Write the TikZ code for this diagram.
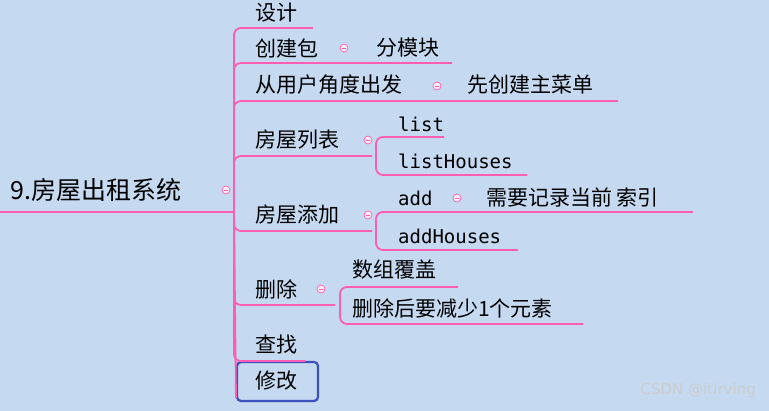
\documentclass[tikz,border=0pt]{standalone}
\usepackage{fontspec}
\setmainfont{Noto Sans CJK SC}
\newfontfamily\cjk{Noto Sans CJK SC}
\setmonofont{DejaVu Sans Mono}
\begin{document}
\begin{tikzpicture}[x=1pt,y=-1pt,
  lbl/.style={anchor=west,inner sep=0pt,font=\cjk\fontsize{21}{24}\selectfont},
  mono/.style={anchor=west,inner sep=0pt,font=\ttfamily\fontsize{19}{22}\selectfont},
  br/.style={draw=pinkc,line width=1.8pt,rounded corners=7pt},
  tog/.style={circle,draw=pinkc,fill=white!90!pinkc,line width=0.7pt,minimum size=8pt,inner sep=0pt,
    path picture={\draw[pinkc,line width=0.7pt] ([xshift=-2pt]path picture bounding box.center)--([xshift=2pt]path picture bounding box.center);}}]
\definecolor{bg}{HTML}{C5D9F1}
\definecolor{pinkc}{HTML}{FF5CB4}
\fill[bg] (0,0) rectangle (769,411);
\useasboundingbox (0,0) rectangle (769,411);
% root
\node[lbl,font=\cjk\fontsize{25}{28}\selectfont] (root) at (10,190) {9.房屋出租系统};
\node[tog] (t0) at (226,190) {};
\coordinate (r0) at (0,212);
\coordinate (hub) at (234,212);
\draw[br] (r0) -- (hub);
% level 1
\node[lbl] (a1) at (255,13) {设计};
\node[lbl] (a2) at (255,48) {创建包};
\node[tog] (t2) at (344,48) {};
\node[lbl] (a2b) at (376,48) {分模块};
\node[lbl] (a3) at (255,85) {从用户角度出发};
\node[tog] (t3) at (437,86) {};
\node[lbl] (a3b) at (467,85) {先创建主菜单};
\node[lbl] (a4) at (255,140) {房屋列表};
\node[tog] (t4) at (368,140) {};
\node[lbl] (a5) at (255,215) {房屋添加};
\node[tog] (t5) at (368,215) {};
\node[lbl] (a6) at (255,289) {删除};
\node[tog] (t6) at (321,289) {};
\node[lbl] (a7) at (255,345) {查找};
\node[lbl] (a8) at (255,381) {修改};
\draw[draw={rgb,255:red,60;green,80;blue,190},line width=2.2pt,rounded corners=4pt] (237,362) rectangle (318,401);
\coordinate (e1) at (313,28);
\coordinate (e2) at (452,63);
\coordinate (e3) at (618,101);
\coordinate (e4) at (372,156);
\coordinate (e5) at (372,231);
\coordinate (e6) at (335,305);
\coordinate (e7) at (305,361);
\coordinate (e8) at (236,398);
\foreach \e in {e1,e2,e3,e4,e5,e6,e7} \draw[br] (hub) |- (\e);
\draw[br] (hub) -- (e8);
% level 2: 房屋列表
\node[mono] (b1) at (398,124) {list};
\node[mono] (b2) at (398,161) {listHouses};
\coordinate (h4) at (376,156);
\draw[br] (h4) |- (444,137);
\draw[br] (h4) |- (527,175);
% 房屋添加
\node[mono] (c1) at (398,198) {add};
\node[tog] (tc1) at (457,198) {};
\node[lbl] (c1b) at (486,197) {需要记录当前 索引};
\node[mono] (c2) at (398,236) {addHouses};
\coordinate (h5) at (376,231);
\draw[br] (h5) |- (693,212);
\draw[br] (h5) |- (518,250);
% 删除
\node[lbl] (d1) at (352,270) {数组覆盖};
\node[lbl] (d2) at (352,308) {删除后要减少1个元素};
\coordinate (h6) at (340,305);
\draw[br] (h6) |- (458,287);
\draw[br] (h6) |- (583,324);
\node[anchor=east,inner sep=0pt,text=white!60!gray,font=\fontspec{DejaVu Sans}\fontsize{15}{17}\selectfont] (wm) at (756,390) {CSDN @itIrving};
\end{tikzpicture}
\end{document}
